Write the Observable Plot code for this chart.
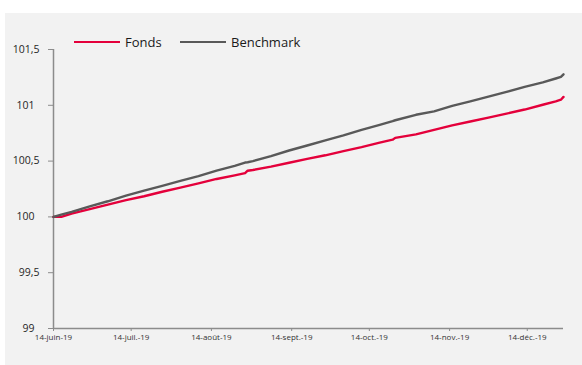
<!DOCTYPE html>
<html>
<head>
<meta charset="utf-8">
<script src="https://cdn.jsdelivr.net/npm/d3@7"></script>
<script src="https://cdn.jsdelivr.net/npm/@observablehq/plot@0.6"></script>
<style>
  html, body { margin: 0; padding: 0; background: #ffffff; }
  #frame {
    position: absolute; left: 5px; top: 13px; width: 577px; height: 352px;
    background: #f2f2f2; overflow: hidden;
  }
  #frame svg { position: absolute; left: 0; top: 0; background: transparent; }
  .legend {
    position: absolute; top: 20px; left: 0; height: 20px;
    font-family: "Open Sans", sans-serif; font-size: 13px; color: #1a1a1a;
  }
  .legend .item { position: absolute; top: 0; white-space: nowrap; display: flex; align-items: center; }
  .legend .swatch { display: inline-block; width: 46px; height: 2px; margin-right: 5px; }
</style>
</head>
<body>
<div id="frame"></div>
<script>
// Daily index values (base 100 on 14 June 2019)
const dates = [
  "2019-06-14","2019-06-17","2019-06-21","2019-06-28","2019-07-05","2019-07-12",
  "2019-07-19","2019-07-26","2019-08-02","2019-08-09","2019-08-16","2019-08-23",
  "2019-08-27","2019-08-28","2019-08-30","2019-09-06","2019-09-13","2019-09-20",
  "2019-09-27","2019-10-04","2019-10-11","2019-10-18","2019-10-23","2019-10-24",
  "2019-11-01","2019-11-08","2019-11-15","2019-11-22","2019-11-29","2019-12-06",
  "2019-12-13","2019-12-20","2019-12-25","2019-12-27","2019-12-28"
];
const fonds = [
  100.000, 100.000, 100.030, 100.070, 100.110, 100.150,
  100.185, 100.225, 100.262, 100.300, 100.340, 100.372,
  100.392, 100.414, 100.420, 100.450, 100.485, 100.520,
  100.552, 100.590, 100.625, 100.665, 100.692, 100.708,
  100.740, 100.780, 100.820, 100.855, 100.890, 100.925,
  100.962, 101.005, 101.035, 101.050, 101.075
];
const benchmark = [
  100.000, 100.020, 100.045, 100.095, 100.140, 100.190,
  100.235, 100.278, 100.322, 100.365, 100.415, 100.458,
  100.487, 100.490, 100.500, 100.545, 100.595, 100.640,
  100.685, 100.730, 100.780, 100.825, 100.858, 100.866,
  100.915, 100.945, 100.995, 101.035, 101.078, 101.120,
  101.165, 101.205, 101.240, 101.255, 101.278
];
const seriesNames = ["Fonds", "Benchmark"];
const seriesColors = ["#e4003b", "#595959"];

// x-axis ticks: the 14th of each month
const tickDates = ["2019-06-14","2019-07-14","2019-08-14","2019-09-14","2019-10-14","2019-11-14","2019-12-14"];
const tickLabels = ["14-juin-19","14-juil.-19","14-août-19","14-sept.-19","14-oct.-19","14-nov.-19","14-déc.-19"];
const yTicksWhole = [99, 100, 101];
const yTicksHalf = [99.5, 100.5, 101.5];

const parse = d3.utcParse("%Y-%m-%d");
const rows = [];
dates.forEach((d, i) => {
  rows.push({date: parse(d), value: fonds[i], series: seriesNames[0]});
  rows.push({date: parse(d), value: benchmark[i], series: seriesNames[1]});
});
const xTicks = tickDates.map(parse);
const labelOf = new Map(xTicks.map((t, i) => [+t, tickLabels[i]]));
const yFmt = d => String(d).replace(".", ",");

const axisColor = "#8c8c8c";
const chart = Plot.plot({
  width: 577,
  height: 352,
  marginLeft: 48,
  marginRight: 19,
  marginTop: 36,
  marginBottom: 37,
  style: {background: "transparent", fontFamily: "'Open Sans', sans-serif", color: "#262626"},
  x: {type: "utc", domain: [parse(dates[0]), parse(dates[dates.length - 1])]},
  y: {domain: [99, 101.5]},
  color: {domain: seriesNames, range: seriesColors},
  marks: [
    Plot.ruleY([99], {stroke: axisColor, strokeWidth: 1.5}),
    Plot.ruleX([parse(dates[0])], {stroke: axisColor, strokeWidth: 1.5}),
    Plot.axisX({
      ticks: xTicks, tickSize: 3, tickPadding: 3, stroke: axisColor,
      tickFormat: d => labelOf.get(+d), fontSize: 8, fill: "#333", label: null
    }),
    Plot.axisY({
      ticks: yTicksWhole, tickSize: 5, tickPadding: 14, stroke: axisColor,
      tickFormat: yFmt, fontSize: 10.5, fill: "#262626", label: null
    }),
    Plot.axisY({
      ticks: yTicksHalf, tickSize: 5, tickPadding: 9, stroke: axisColor,
      tickFormat: yFmt, fontSize: 10.5, fill: "#262626", label: null
    }),
    Plot.line(rows, {
      x: "date", y: "value", z: "series", stroke: "series",
      strokeWidth: 2.4, strokeLinejoin: "round", strokeLinecap: "round"
    })
  ]
});
const frame = document.getElementById("frame");
frame.appendChild(chart);

// Legend
const legend = document.createElement("div");
legend.className = "legend";
const legendX = [69, 175];
seriesNames.forEach((name, i) => {
  const item = document.createElement("div");
  item.className = "item";
  item.style.left = legendX[i] + "px";
  item.innerHTML = `<span class="swatch" style="background:${seriesColors[i]}"></span><span>${name}</span>`;
  legend.appendChild(item);
});
frame.appendChild(legend);
</script>
</body>
</html>
